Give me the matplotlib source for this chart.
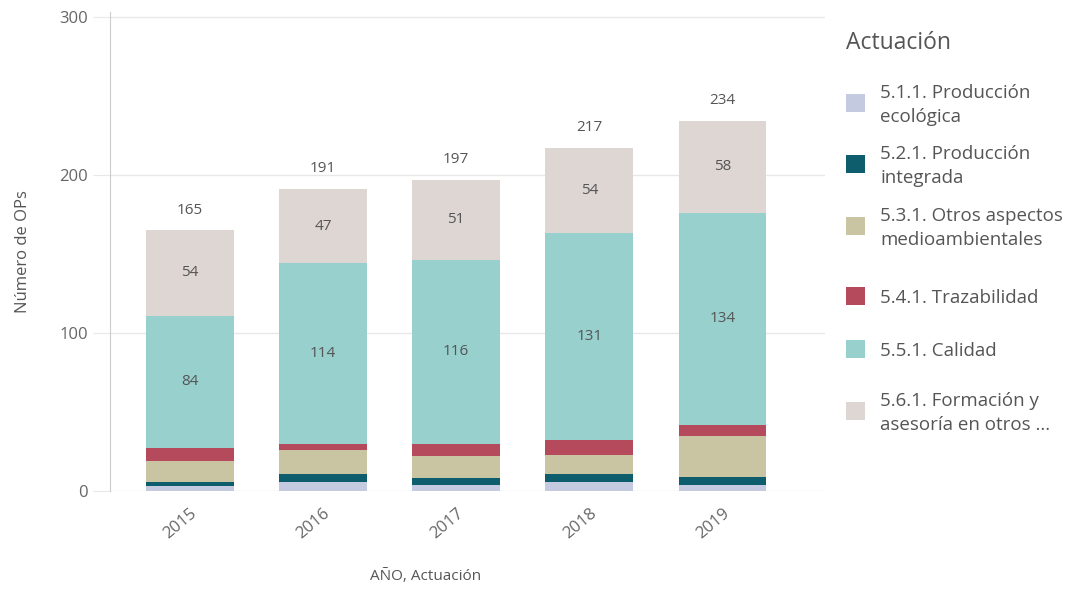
import matplotlib.pyplot as plt
from matplotlib.patches import Rectangle

plt.rcParams['font.family'] = ['Open Sans', 'DejaVu Sans']

years = ['2015', '2016', '2017', '2018', '2019']
actuaciones = [
    '5.1.1. Producción\necológica',
    '5.2.1. Producción\nintegrada',
    '5.3.1. Otros aspectos\nmedioambientales',
    '5.4.1. Trazabilidad',
    '5.5.1. Calidad',
    '5.6.1. Formación y\nasesoría en otros ...',
]
ecologica = [3, 6, 4, 6, 4]
integrada = [3, 5, 4, 5, 5]
otros = [13, 15, 14, 12, 26]
trazabilidad = [8, 4, 8, 9, 7]
calidad = [84, 114, 116, 131, 134]
formacion = [54, 47, 51, 54, 58]
totals = [165, 191, 197, 217, 234]

series = [ecologica, integrada, otros, trazabilidad, calidad, formacion]
colors = ['#c4cadf', '#0e5d6c', '#c9c5a2', '#b44a5b', '#98d0ce', '#ddd6d3']
labelled = [False, False, False, False, True, True]

W, H = 1078, 597
fig = plt.figure(figsize=(W / 100, H / 100), dpi=100)
ax = fig.add_axes([110 / W, (H - 491) / H, (825 - 110) / W, (491 - 12) / H])

x = range(len(years))
bottom = [0] * len(years)
for vals, col, lab in zip(series, colors, labelled):
    ax.bar(x, vals, bottom=bottom, width=0.66, color=col, zorder=2)
    if lab:
        for i, v in enumerate(vals):
            ax.text(i, bottom[i] + v / 2, str(v), ha='center', va='center',
                    fontsize=11, color='#555555', zorder=3)
    bottom = [b + v for b, v in zip(bottom, vals)]

for i, t in enumerate(totals):
    ax.text(i, t + 8, str(t), ha='center', va='bottom', fontsize=11, color='#555555')

ax.set_xlim(-0.6, 4.77)
ax.set_ylim(0, 303)
ax.set_yticks([0, 100, 200, 300])
ax.yaxis.grid(True, color='#e8e8e8', linewidth=1, zorder=0)
for s in ['top', 'right', 'bottom']:
    ax.spines[s].set_visible(False)
ax.spines['left'].set_color('#cccccc')
ax.tick_params(axis='y', length=12, color='#e8e8e8', labelsize=12, labelcolor='#666666', pad=4)
ax.tick_params(axis='x', length=0, labelsize=12, labelcolor='#666666', pad=10)
ax.set_xticks(list(x))
ax.set_xticklabels(years, rotation=40, ha='right', rotation_mode='anchor')
ax.set_ylabel('Número de OPs', fontsize=12, color='#555555', labelpad=20)
ax.set_xlabel('AÑO, Actuación', fontsize=11, color='#555555')
ax.xaxis.set_label_coords((426 - 110) / 715, -(569 - 491) / 479)

# leyenda manual
fig.text(846 / W, 1 - 43 / H, 'Actuación', fontsize=16.5, color='#555555', va='center')
entry_y = [103, 164, 226, 296, 349, 411]
for lab, col, yc in zip(actuaciones, colors, entry_y):
    fig.add_artist(Rectangle((846 / W, 1 - (yc + 9) / H), 19 / W, 18 / H,
                             facecolor=col, edgecolor='none', transform=fig.transFigure))
    fig.text(880 / W, 1 - (yc + 2) / H, lab, fontsize=13.5, color='#555555', va='center',
             linespacing=1.45)

fig.savefig('out.png', dpi=100)
